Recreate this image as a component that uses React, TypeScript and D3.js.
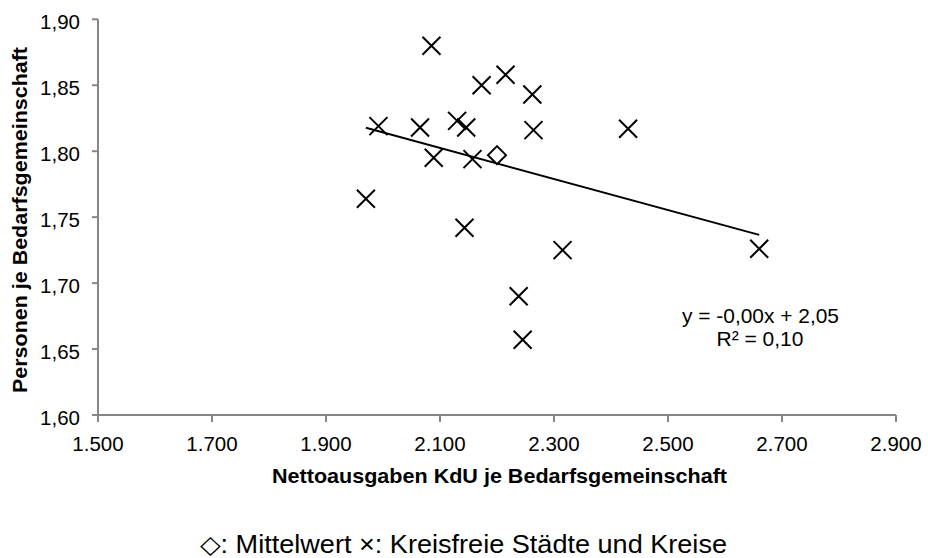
import React from "react";
import * as d3 from "d3";

// Kreisfreie Städte und Kreise: Nettoausgaben KdU je BG (x) and Personen je BG (y)
const cityX = [1970, 1992, 2065, 2085, 2089, 2130, 2143, 2146, 2157, 2173, 2215, 2238, 2245, 2262, 2264, 2315, 2430, 2660];
const cityY = [1.764, 1.819, 1.818, 1.880, 1.795, 1.823, 1.742, 1.818, 1.794, 1.850, 1.858, 1.690, 1.657, 1.843, 1.816, 1.725, 1.817, 1.726];
// Mittelwert
const meanX = [2200];
const meanY = [1.797];

const xTicks = [1500, 1700, 1900, 2100, 2300, 2500, 2700, 2900];
const yTicks = [1.6, 1.65, 1.7, 1.75, 1.8, 1.85, 1.9];

const xTitle = "Nettoausgaben KdU je Bedarfsgemeinschaft";
const yTitle = "Personen je Bedarfsgemeinschaft";
const legendText = "\u25C7: Mittelwert \u00D7: Kreisfreie Städte und Kreise";

const de = d3.formatLocale({ decimal: ",", thousands: ".", grouping: [3], currency: ["", " €"], minus: "-" });
const fmtX = de.format(",.0f");
const fmtY = de.format(".2f");
const fmtSigned = (v: number) => (v < 0 ? "-" : "") + fmtY(Math.abs(v));

const W = 928, H = 558;
const x = d3.scaleLinear().domain([1500, 2900]).range([98, 896]);
const y = d3.scaleLinear().domain([1.6, 1.9]).range([415, 19.3]);

function regression(xs: number[], ys: number[]) {
  const mx = d3.mean(xs)!, my = d3.mean(ys)!;
  let sxy = 0, sxx = 0, syy = 0;
  xs.forEach((v, i) => {
    const dx = v - mx, dy = ys[i] - my;
    sxy += dx * dy; sxx += dx * dx; syy += dy * dy;
  });
  const slope = sxy / sxx;
  const intercept = my - slope * mx;
  const r2 = (sxy * sxy) / (sxx * syy);
  return { slope, intercept, r2 };
}

export default function App() {
  const reg = regression(cityX, cityY);
  const [x0, x1] = d3.extent(cityX) as [number, number];
  const line = d3.line<number>().x((d) => x(d)).y((d) => y(reg.slope * d + reg.intercept));
  const axisColor = "#868686";
  const font = "'Liberation Sans', Arial, sans-serif";
  const s = 9;
  const sign = reg.intercept >= 0 ? "+" : "-";
  const eq = `y = ${fmtSigned(reg.slope)}x ${sign} ${fmtY(Math.abs(reg.intercept))}`;
  const r2txt = `R² = ${fmtY(reg.r2)}`;

  return (
    <svg width={W} height={H} style={{ position: "fixed", left: 0, top: 0, background: "#fff" }} fontFamily={font}>
      <rect width={W} height={H} fill="#fff" />
      {/* axes */}
      <line x1={x(1500)} x2={x(2900)} y1={y(1.6)} y2={y(1.6)} stroke={axisColor} strokeWidth={2} />
      <line x1={x(1500)} x2={x(1500)} y1={y(1.6)} y2={y(1.9)} stroke={axisColor} strokeWidth={2} />
      {xTicks.map((t) => (
        <g key={"xt" + t}>
          <line x1={x(t)} x2={x(t)} y1={y(1.6)} y2={y(1.6) + 7} stroke={axisColor} strokeWidth={2} />
          <text x={x(t)} y={y(1.6) + 36} textAnchor="middle" fontSize={20.5} fill="#000">{fmtX(t)}</text>
        </g>
      ))}
      {yTicks.map((t) => (
        <g key={"yt" + t}>
          <line x1={x(1500) - 6} x2={x(1500)} y1={y(t)} y2={y(t)} stroke={axisColor} strokeWidth={2} />
          <text x={80} y={y(t) + 10} textAnchor="end" fontSize={20.5} fill="#000">{fmtY(t)}</text>
        </g>
      ))}
      {/* axis titles */}
      <text x={499.5} y={483} textAnchor="middle" fontSize={21} fontWeight="bold" fill="#000" textLength={455} lengthAdjust="spacingAndGlyphs">{xTitle}</text>
      <text transform={`translate(27,220) rotate(-90)`} textAnchor="middle" fontSize={21} fontWeight="bold" fill="#000" textLength={346} lengthAdjust="spacingAndGlyphs">{yTitle}</text>
      {/* trend line */}
      <path d={line([x0, x1]) || ""} fill="none" stroke="#000" strokeWidth={2} />
      {/* city markers */}
      {cityX.map((v, i) => {
        const cx = x(v), cy = y(cityY[i]);
        return (
          <path key={"c" + i} d={`M${cx - s},${cy - s}L${cx + s},${cy + s}M${cx - s},${cy + s}L${cx + s},${cy - s}`} stroke="#000" strokeWidth={2} fill="none" />
        );
      })}
      {/* mean marker */}
      {meanX.map((v, i) => {
        const cx = x(v), cy = y(meanY[i]);
        return (
          <path key={"m" + i} d={`M${cx},${cy - s}L${cx + s},${cy}L${cx},${cy + s}L${cx - s},${cy}Z`} stroke="#000" strokeWidth={2} fill="#fff" />
        );
      })}
      {/* equation */}
      <text x={760.5} y={322.7} textAnchor="middle" fontSize={21} fill="#000" textLength={157} lengthAdjust="spacingAndGlyphs">{eq}</text>
      <text x={760} y={345.7} textAnchor="middle" fontSize={21} fill="#000">{r2txt}</text>
      {/* legend */}
      <text x={463.5} y={553} textAnchor="middle" fontSize={25} fill="#000" textLength={527} lengthAdjust="spacingAndGlyphs">{legendText}</text>
    </svg>
  );
}
